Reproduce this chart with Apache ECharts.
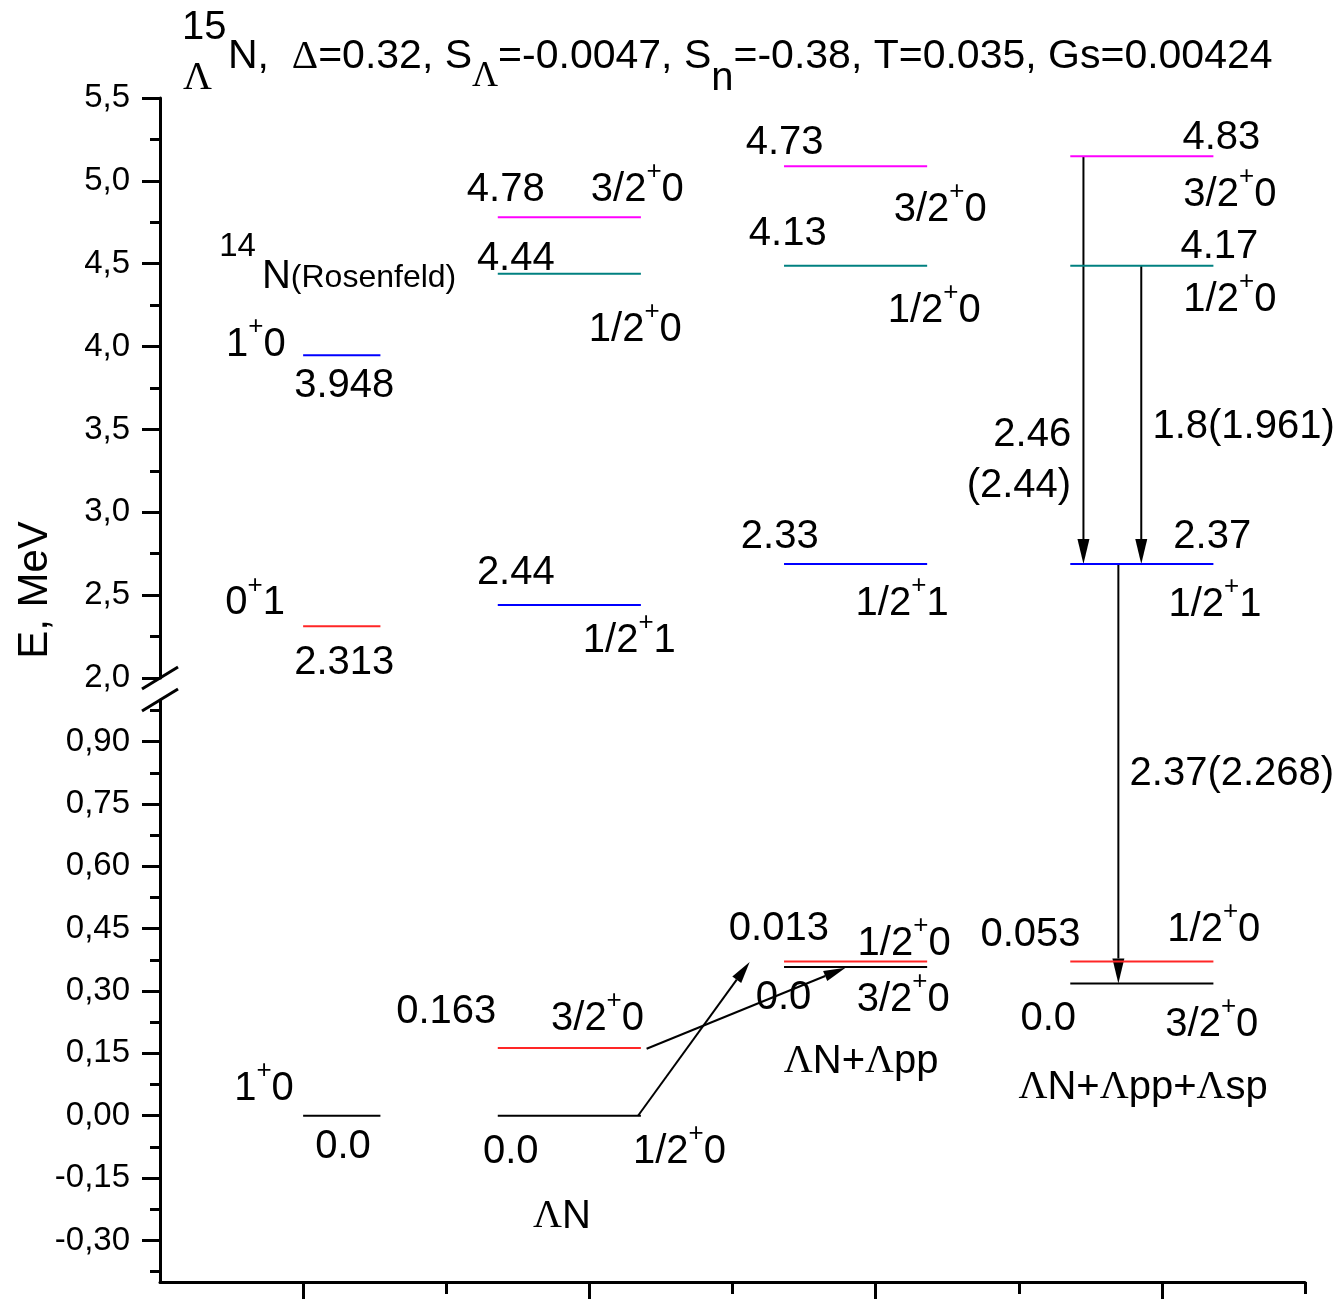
<!DOCTYPE html>
<html><head><meta charset="utf-8">
<script src="https://cdn.jsdelivr.net/npm/echarts@6/dist/echarts.min.js"></script>
<style>html,body{margin:0;padding:0;background:#fff}#c{width:1342px;height:1299px}</style>
</head><body><div id="c"></div>
<script>
// ---------------- DATA ----------------
const columnNames = ['14N(Rosenfeld)', 'ΛN', 'ΛN+Λpp', 'ΛN+Λpp+Λsp'];
const columnFrom = [1.0, 1.68, 2.68, 3.68];
const columnTo = [1.27, 2.18, 3.18, 4.18];
// level energies as drawn on the energy axis (MeV)
const col1Levels = [0.0, 2.313, 3.948];
const col2Levels = [0.0, 0.163, 2.44, 4.44, 4.78];
const col3Levels = [0.358, 0.371, 2.688, 4.488, 5.088];
const col4Levels = [0.318, 0.371, 2.688, 4.488, 5.148];
// level kind (ground / red / blue / teal / magenta)
const col1Kinds = ['g', 'r', 'b'];
const colKinds = ['g', 'r', 'b', 't', 'm'];
// transitions (arrows): from [x,E] to [x,E]
const transFromX = [2.17, 2.20, 3.726, 3.928, 3.848];
const transFromE = [0.0, 0.161, 5.148, 4.488, 2.688];
const transToX = [2.56, 2.895, 3.726, 3.928, 3.848];
const transToE = [0.37, 0.356, 2.688, 2.688, 0.318];
// axis ticks
const upperMin = 2.0, upperMax = 5.5, upperStep = 0.5;
const lowerMin = -0.4, lowerMax = 1.0;
const lowerTicks = [-0.30, -0.15, 0.00, 0.15, 0.30, 0.45, 0.60, 0.75, 0.90];
const lowerMinorTicks = [-0.375, -0.225, -0.075, 0.075, 0.225, 0.375, 0.525, 0.675, 0.825, 0.975];
const xMajorTicks = [1, 2, 3, 4];
const xMinorTicks = [1.5, 2.5, 3.5, 4.5];

// ---------------- STYLE ----------------
const SANS = 'Liberation Sans';
const SERIF = 'Liberation Serif';
const kindColor = { g: '#000000', r: '#ff2626', b: '#0000ff', t: '#008080', m: '#ff00ff' };
const FS = 40;

const chart = echarts.init(document.getElementById('c'), null, { renderer: 'canvas' });

const levelSets = [col1Levels, col2Levels, col3Levels, col4Levels];
const kindSets = [col1Kinds, colKinds, colKinds, colKinds];
const series = [];
levelSets.forEach((lv, c) => lv.forEach((E, i) => {
  const g = E >= 1.5 ? 0 : 1;
  series.push({
    type: 'line', xAxisIndex: g, yAxisIndex: g,
    data: [[columnFrom[c], E], [columnTo[c], E]],
    symbol: 'none', silent: true, animation: false,
    lineStyle: { color: kindColor[kindSets[c][i]], width: 2 }
  });
}));

const axisLineStyle = { color: '#000', width: 3 };
const tickStyle = { color: '#000', width: 3 };
const labelBase = { color: '#000', fontSize: 33, fontFamily: SANS, margin: 30 };

chart.setOption({
  animation: false,
  backgroundColor: '#fff',
  grid: [
    { left: 160, top: 98, width: 1145, height: 580 },
    { left: 160, top: 700, width: 1145, height: 582 }
  ],
  xAxis: [
    { gridIndex: 0, type: 'value', min: 0.5, max: 4.5, show: false },
    { gridIndex: 1, type: 'value', min: 0.5, max: 4.5, position: 'bottom',
      axisLine: { show: true, onZero: false, lineStyle: axisLineStyle },
      axisTick: { show: true, customValues: xMajorTicks, length: 18, lineStyle: tickStyle },
      axisLabel: { show: false }, splitLine: { show: false } },
    { gridIndex: 1, type: 'value', min: 0.5, max: 4.5, position: 'bottom',
      axisLine: { show: false, onZero: false },
      axisTick: { show: true, customValues: xMinorTicks, length: 12, lineStyle: tickStyle },
      axisLabel: { show: false }, splitLine: { show: false } }
  ],
  yAxis: [
    { gridIndex: 0, type: 'value', min: upperMin, max: upperMax, interval: upperStep, position: 'left',
      axisLine: { show: true, onZero: false, lineStyle: axisLineStyle },
      axisTick: { show: true, length: 18, lineStyle: tickStyle },
      minorTick: { show: true, splitNumber: 2, length: 10, lineStyle: tickStyle },
      axisLabel: Object.assign({ formatter: v => v.toFixed(1).replace('.', ',') }, labelBase),
      splitLine: { show: false } },
    { gridIndex: 1, type: 'value', min: lowerMin, max: lowerMax, position: 'left',
      axisLine: { show: true, onZero: false, lineStyle: axisLineStyle },
      axisTick: { show: true, customValues: lowerTicks, length: 18, lineStyle: tickStyle },
      axisLabel: Object.assign({ customValues: lowerTicks, formatter: v => v.toFixed(2).replace('.', ',') }, labelBase),
      splitLine: { show: false } },
    { gridIndex: 1, type: 'value', min: lowerMin, max: lowerMax, position: 'left', offset: 0,
      axisLine: { show: false, onZero: false },
      axisTick: { show: true, customValues: lowerMinorTicks, length: 10, lineStyle: tickStyle },
      axisLabel: { show: false }, splitLine: { show: false } }
  ],
  series: series
});

// ---------------- ANNOTATIONS ----------------
function px(x, E) {
  const g = E >= 1.5 ? 0 : 1;
  return chart.convertToPixel({ xAxisIndex: g, yAxisIndex: g }, [x, E]);
}
const mctx = document.createElement('canvas').getContext('2d');
function measure(t, size, fam) { mctx.font = size + 'px "' + fam + '"'; return mctx.measureText(t).width; }
// part: [text, size, dy, serif?, dx]
function runs(parts, x0, yc, align) {
  let total = 0;
  parts.forEach(p => { total += (p[4] || 0) + measure(p[0], p[1], p[3] ? SERIF : SANS); });
  let x = align === 'right' ? x0 - total : x0;
  const els = [];
  parts.forEach(p => {
    x += (p[4] || 0);
    const fam = p[3] ? SERIF : SANS;
    els.push({ type: 'text', x: x, y: yc + (p[2] || 0), silent: true,
      style: { text: p[0], fontSize: p[1], fontFamily: fam, fill: '#000', align: 'left', verticalAlign: 'middle' } });
    x += measure(p[0], p[1], fam);
  });
  return els;
}
const num = t => [[t, FS]];
const spin = (a, b) => [[a, FS], ['+', 26, -18], [b, FS]];
const lam = (rest) => {
  const out = [];
  rest.forEach(r => { if (r === 'Λ') out.push(['Λ', FS, 0, true]); else out.push([r, FS]); });
  return out;
};

const annotations = [
  // column 1
  { p: [['14', 33, -30], ['N', FS, 0, false, 6], ['(Rosenfeld)', 32, 1]], x: 0.707, E: 4.42 },
  { p: spin('1', '0'), x: 0.731, E: 4.01 },
  { p: num('3.948'), x: 0.969, E: 3.76 },
  { p: spin('0', '1'), x: 0.728, E: 2.45 },
  { p: num('2.313'), x: 0.969, E: 2.09 },
  { p: spin('1', '0'), x: 0.759, E: 0.065 },
  { p: num('0.0'), x: 1.042, E: -0.075 },
  // column 2
  { p: num('4.78'), x: 1.572, E: 4.945 },
  { p: spin('3/2', '0'), x: 2.005, E: 4.945 },
  { p: num('4.44'), x: 1.607, E: 4.53 },
  { p: spin('1/2', '0'), x: 1.998, E: 4.10 },
  { p: num('2.44'), x: 1.607, E: 2.634 },
  { p: spin('1/2', '1'), x: 1.977, E: 2.223 },
  { p: num('0.163'), x: 1.325, E: 0.25 },
  { p: spin('3/2', '0'), x: 1.866, E: 0.233 },
  { p: num('0.0'), x: 1.628, E: -0.087 },
  { p: spin('1/2', '0'), x: 2.152, E: -0.087 },
  { p: lam(['Λ', 'N']), x: 1.803, E: -0.243 },
  // column 3
  { p: num('4.73'), x: 2.546, E: 5.229 },
  { p: spin('3/2', '0'), x: 3.063, E: 4.824 },
  { p: num('4.13'), x: 2.557, E: 4.68 },
  { p: spin('1/2', '0'), x: 3.042, E: 4.215 },
  { p: num('2.33'), x: 2.529, E: 2.851 },
  { p: spin('1/2', '1'), x: 2.930, E: 2.447 },
  { p: num('0.013'), x: 2.487, E: 0.45 },
  { p: spin('1/2', '0'), x: 2.937, E: 0.414 },
  { p: num('0.0'), x: 2.581, E: 0.284 },
  { p: spin('3/2', '0'), x: 2.934, E: 0.279 },
  { p: lam(['Λ', 'N+', 'Λ', 'pp']), x: 2.679, E: 0.13 },
  // column 4
  { p: num('4.83'), x: 4.072, E: 5.259 },
  { p: spin('3/2', '0'), x: 4.075, E: 4.915 },
  { p: num('4.17'), x: 4.065, E: 4.60 },
  { p: spin('1/2', '0'), x: 4.075, E: 4.281 },
  { p: num('2.46'), x: 3.683, E: 3.467, align: 'right' },
  { p: num('(2.44)'), x: 3.683, E: 3.159, align: 'right' },
  { p: num('1.8(1.961)'), x: 3.967, E: 3.515 },
  { p: num('2.37'), x: 4.040, E: 2.851 },
  { p: spin('1/2', '1'), x: 4.023, E: 2.44 },
  { p: num('2.37(2.268)'), x: 3.887, E: 0.821 },
  { p: num('0.053'), x: 3.366, E: 0.435 },
  { p: spin('1/2', '0'), x: 4.019, E: 0.448 },
  { p: num('0.0'), x: 3.506, E: 0.233 },
  { p: spin('3/2', '0'), x: 4.012, E: 0.219 },
  { p: lam(['Λ', 'N+', 'Λ', 'pp+', 'Λ', 'sp']), x: 3.499, E: 0.067 }
];

const graphics = [];
annotations.forEach(a => {
  const p = px(a.x, a.E);
  runs(a.p, p[0], p[1], a.align).forEach(e => graphics.push(e));
});

// arrows
function arrowEls(p1, p2, L, W) {
  const dx = p2[0] - p1[0], dy = p2[1] - p1[1];
  const len = Math.hypot(dx, dy), ux = dx / len, uy = dy / len;
  const bx = p2[0] - ux * L, by = p2[1] - uy * L;
  const nx = -uy, ny = ux;
  return [
    { type: 'line', silent: true, shape: { x1: p1[0], y1: p1[1], x2: bx, y2: by }, style: { stroke: '#000', lineWidth: 2 } },
    { type: 'polygon', silent: true, shape: { points: [[p2[0], p2[1]], [bx + nx * W / 2, by + ny * W / 2], [bx - nx * W / 2, by - ny * W / 2]] }, style: { fill: '#000' } }
  ];
}
transFromX.forEach((x1, i) => {
  const p1 = px(x1, transFromE[i]);
  const p2 = px(transToX[i], transToE[i]);
  const vertical = Math.abs(p2[0] - p1[0]) < 1;
  arrowEls(p1, p2, vertical ? 25 : 22, vertical ? 12 : 11).forEach(e => graphics.push(e));
});

// axis break marks
const pu = chart.convertToPixel({ xAxisIndex: 0, yAxisIndex: 0 }, [0.5, upperMin]);
const pl = chart.convertToPixel({ xAxisIndex: 1, yAxisIndex: 1 }, [0.5, lowerMax]);
[pu, pl].forEach(p => {
  graphics.push({ type: 'line', silent: true, shape: { x1: p[0] - 18, y1: p[1] + 11, x2: p[0] + 18, y2: p[1] - 11 },
    style: { stroke: '#000', lineWidth: 3 } });
});

// title
graphics.push(...runs([['15', 40]], 182, 28));
graphics.push(...runs([['Λ', 40, 0, true]], 183, 78));
graphics.push(...runs([
  ['N,  ', 41], ['Δ', 41, 0, true], ['=0.32, S', 41], ['Λ', 36, 20, true],
  ['=-0.0047, S', 41], ['n', 40, 22], ['=-0.38, T=0.035, Gs=0.00424', 41]
], 228, 57));

// y axis name
graphics.push({ type: 'text', x: 35, y: 590, rotation: Math.PI / 2, silent: true,
  style: { text: 'E, MeV', fontSize: 42, fontFamily: SANS, fill: '#000', align: 'center', verticalAlign: 'middle' } });

chart.setOption({ graphic: graphics });
</script>
</body></html>
